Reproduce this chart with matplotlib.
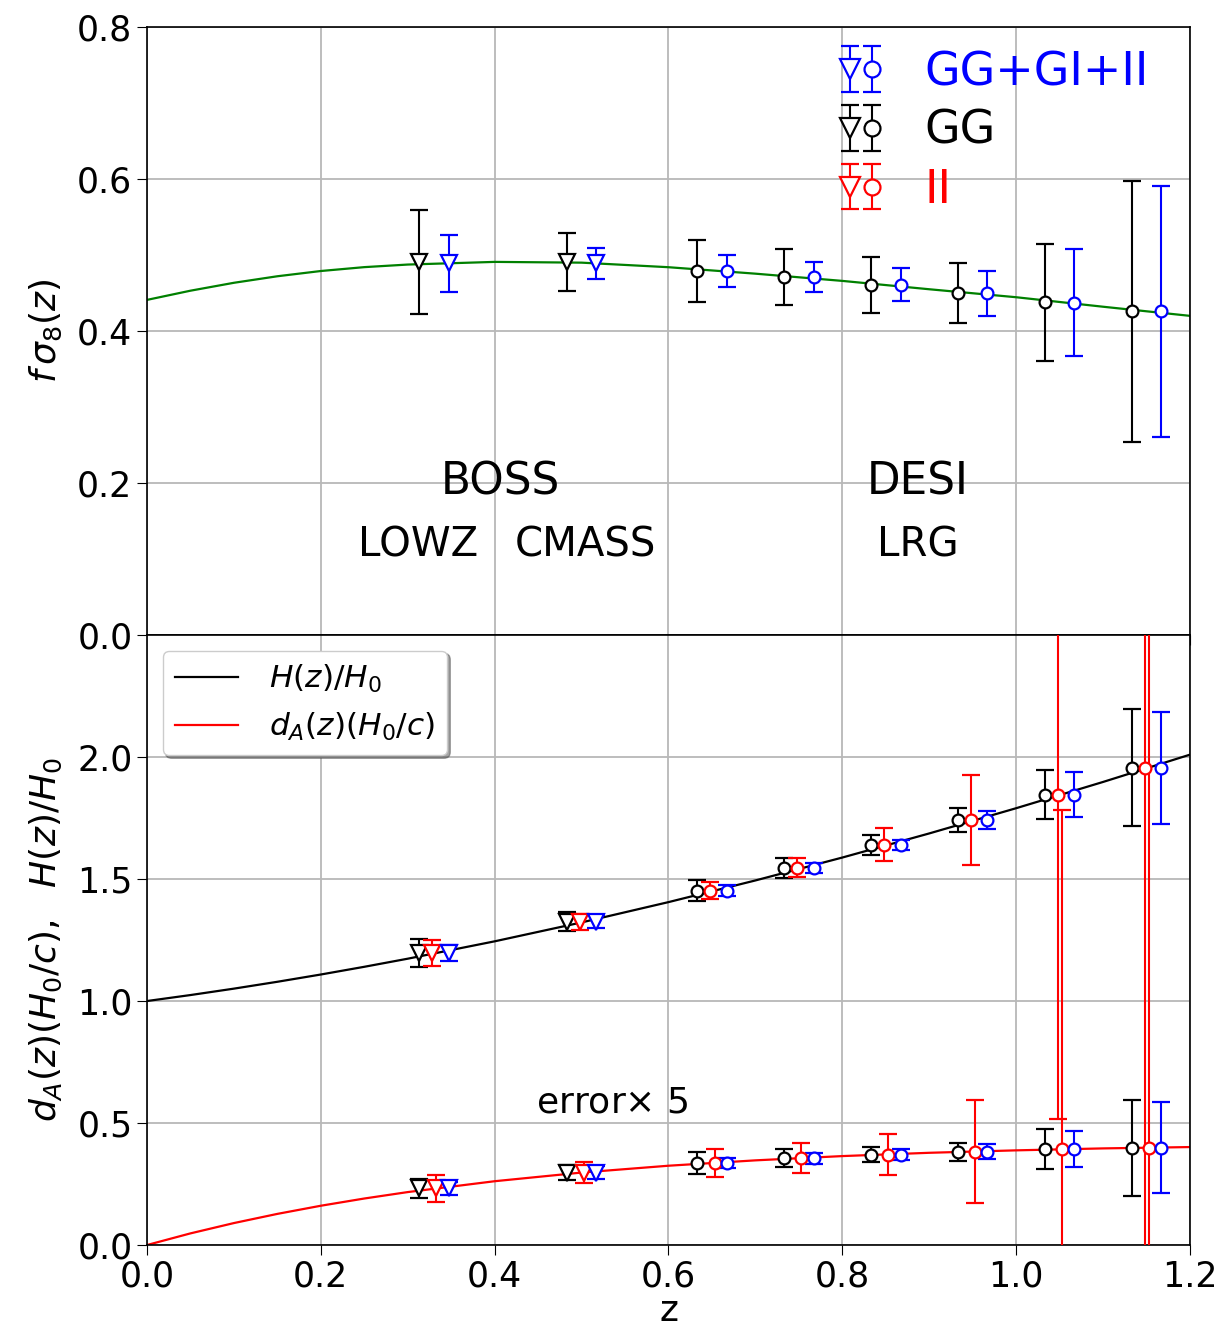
import matplotlib
matplotlib.use("Agg")
import matplotlib.pyplot as plt
import numpy as np
from matplotlib.legend_handler import HandlerTuple

# redshift bins: BOSS LOWZ, BOSS CMASS, then DESI LRG
z_bins = np.array([0.33, 0.50, 0.65, 0.75, 0.85, 0.95, 1.05, 1.15])
dz = 0.017

# fiducial curves
z_curve = np.array([0.0, 0.05, 0.1, 0.15, 0.2, 0.25, 0.3, 0.4, 0.5, 0.6, 0.7,
                    0.8, 0.9, 1.0, 1.1, 1.2])
fs8_curve = np.array([0.441, 0.4531, 0.4635, 0.4721, 0.479, 0.4841, 0.4875, 0.491,
                      0.490, 0.484, 0.4755, 0.466, 0.455, 0.4445, 0.432, 0.420])
hz_curve = np.array([1.0, 1.0245, 1.0508, 1.0789, 1.1087, 1.1403, 1.1735, 1.2447,
                     1.3222, 1.4054, 1.4942, 1.5881, 1.6869, 1.7903, 1.8979, 2.0098])
da_curve = np.array([0.0, 0.0477, 0.090, 0.1276, 0.161, 0.1906, 0.217, 0.2615,
                     0.297, 0.325, 0.347, 0.3645, 0.378, 0.388, 0.396, 0.4015])

# f sigma_8
fs8_gg = np.array([0.491, 0.491, 0.479, 0.471, 0.4605, 0.450, 0.438, 0.426])
fs8_gg_err = np.array([0.068, 0.0385, 0.041, 0.037, 0.037, 0.040, 0.077, 0.172])
fs8_all = np.array([0.489, 0.489, 0.479, 0.471, 0.461, 0.4495, 0.4375, 0.426])
fs8_all_err = np.array([0.038, 0.0205, 0.0205, 0.020, 0.0215, 0.0295, 0.070, 0.165])

# H(z)/H0
hz = np.array([1.197, 1.325, 1.453, 1.546, 1.640, 1.742, 1.846, 1.956])
hz_gg_err = np.array([0.057, 0.040, 0.042, 0.042, 0.042, 0.050, 0.101, 0.240])
hz_ii_err = np.array([0.053, 0.033, 0.035, 0.039, 0.068, 0.186, 1.33, 3.0])
hz_all_err = np.array([0.031, 0.027, 0.022, 0.020, 0.020, 0.037, 0.092, 0.229])

# d_A(z) H0/c  (errors x5)
da = np.array([0.232, 0.297, 0.336, 0.356, 0.371, 0.383, 0.392, 0.399])
da_gg_err = np.array([0.040, 0.030, 0.045, 0.037, 0.029, 0.037, 0.082, 0.197])
da_ii_err = np.array([0.056, 0.042, 0.057, 0.061, 0.082, 0.210, 1.39, 3.0])
da_all_err = np.array([0.027, 0.027, 0.022, 0.022, 0.022, 0.032, 0.074, 0.186])

plt.rcParams["font.family"] = ["DejaVu Sans"]
plt.rcParams["mathtext.fontset"] = "dejavusans"

fig = plt.figure(figsize=(12.22, 13.33), dpi=100)
ax1 = fig.add_axes([0.1203, 0.5236, 0.8535, 0.4561])
ax2 = fig.add_axes([0.1203, 0.0660, 0.8535, 0.4576], sharex=ax1)


def draw_points(ax, x, y, err, color):
    out = []
    for sl, mk, ms in [(slice(0, 2), "v", 11), (slice(2, None), "o", 8.5)]:
        c = ax.errorbar(x[sl], y[sl], yerr=err[sl], fmt=mk, ms=ms,
                        mfc="white", mec=color, mew=1.6, ecolor=color,
                        elinewidth=1.5, capsize=6.5, capthick=1.5, zorder=3)
        out.append(c)
    return out


# top panel: f sigma_8
ax1.plot(z_curve, fs8_curve, color="green", lw=1.6, zorder=2)
gg_top = draw_points(ax1, z_bins - dz, fs8_gg, fs8_gg_err, "black")
all_top = draw_points(ax1, z_bins + dz, fs8_all, fs8_all_err, "blue")

ax1.set_ylim(0, 0.8)
ax1.set_yticks([0.0, 0.2, 0.4, 0.6, 0.8])
ax1.set_ylabel(r"$f\,\sigma_8(z)$", fontsize=26)
ax1.tick_params(labelbottom=False, labelsize=25, length=7)

ax1.text(0.406, 0.201, "BOSS", fontsize=31.5, ha="center", va="center")
ax1.text(0.312, 0.118, "LOWZ", fontsize=29, ha="center", va="center")
ax1.text(0.504, 0.118, "CMASS", fontsize=29, ha="center", va="center")
ax1.text(0.887, 0.201, "DESI", fontsize=31.5, ha="center", va="center")
ax1.text(0.887, 0.118, "LRG", fontsize=29, ha="center", va="center")

# bottom panel: H(z)/H0 and d_A(z)
lh, = ax2.plot(z_curve, hz_curve, color="black", lw=1.6, zorder=2,
               label=r"$H(z)/H_0$")
ld, = ax2.plot(z_curve, da_curve, color="red", lw=1.6, zorder=2,
               label=r"$d_A(z)(H_0/c)$")

draw_points(ax2, z_bins - dz, hz, hz_gg_err, "black")
ii_h = draw_points(ax2, z_bins - 0.002, hz, hz_ii_err, "red")
draw_points(ax2, z_bins + dz, hz, hz_all_err, "blue")

draw_points(ax2, z_bins - dz, da, da_gg_err, "black")
draw_points(ax2, z_bins + 0.003, da, da_ii_err, "red")
draw_points(ax2, z_bins + dz, da, da_all_err, "blue")

ax2.text(0.535, 0.584, r"error$\times$ 5", fontsize=26, ha="center", va="center")

ax2.set_xlim(0, 1.2)
ax2.set_ylim(0, 2.5)
ax2.set_yticks([0.0, 0.5, 1.0, 1.5, 2.0])
ax2.set_xticks([0.0, 0.2, 0.4, 0.6, 0.8, 1.0, 1.2])
ax2.tick_params(labelsize=25, length=7)
ax2.set_xlabel("z", fontsize=26, labelpad=0)
ax2.set_ylabel(r"$d_A(z)(H_0/c),\ \ H(z)/H_0$", fontsize=26)

for ax in (ax1, ax2):
    ax.grid(True, color="#b8b8b8", lw=1.3)
    ax.set_axisbelow(True)
    for sp in ax.spines.values():
        sp.set_linewidth(1.2)

ax1.yaxis.set_label_coords(-0.08, 0.5)
ax2.yaxis.set_label_coords(-0.08, 0.5)

# legends
leg1 = ax1.legend([tuple(all_top), tuple(gg_top), tuple(ii_h)],
                  ["GG+GI+II", "GG", "II"],
                  handler_map={tuple: HandlerTuple(ndivide=None, pad=0)},
                  loc="upper right", bbox_to_anchor=(1.0, 1.03),
                  frameon=False, fontsize=33, handlelength=0.95,
                  handletextpad=0.9, labelspacing=0.3, markerscale=1.35)
for txt, col in zip(leg1.get_texts(), ["blue", "black", "red"]):
    txt.set_color(col)

ax2.legend(handles=[lh, ld], loc="upper left", fontsize=22.5, fancybox=True,
           shadow=True, framealpha=1, borderaxespad=0.5, handletextpad=1.0)

fig.savefig("out.png", dpi=100)
